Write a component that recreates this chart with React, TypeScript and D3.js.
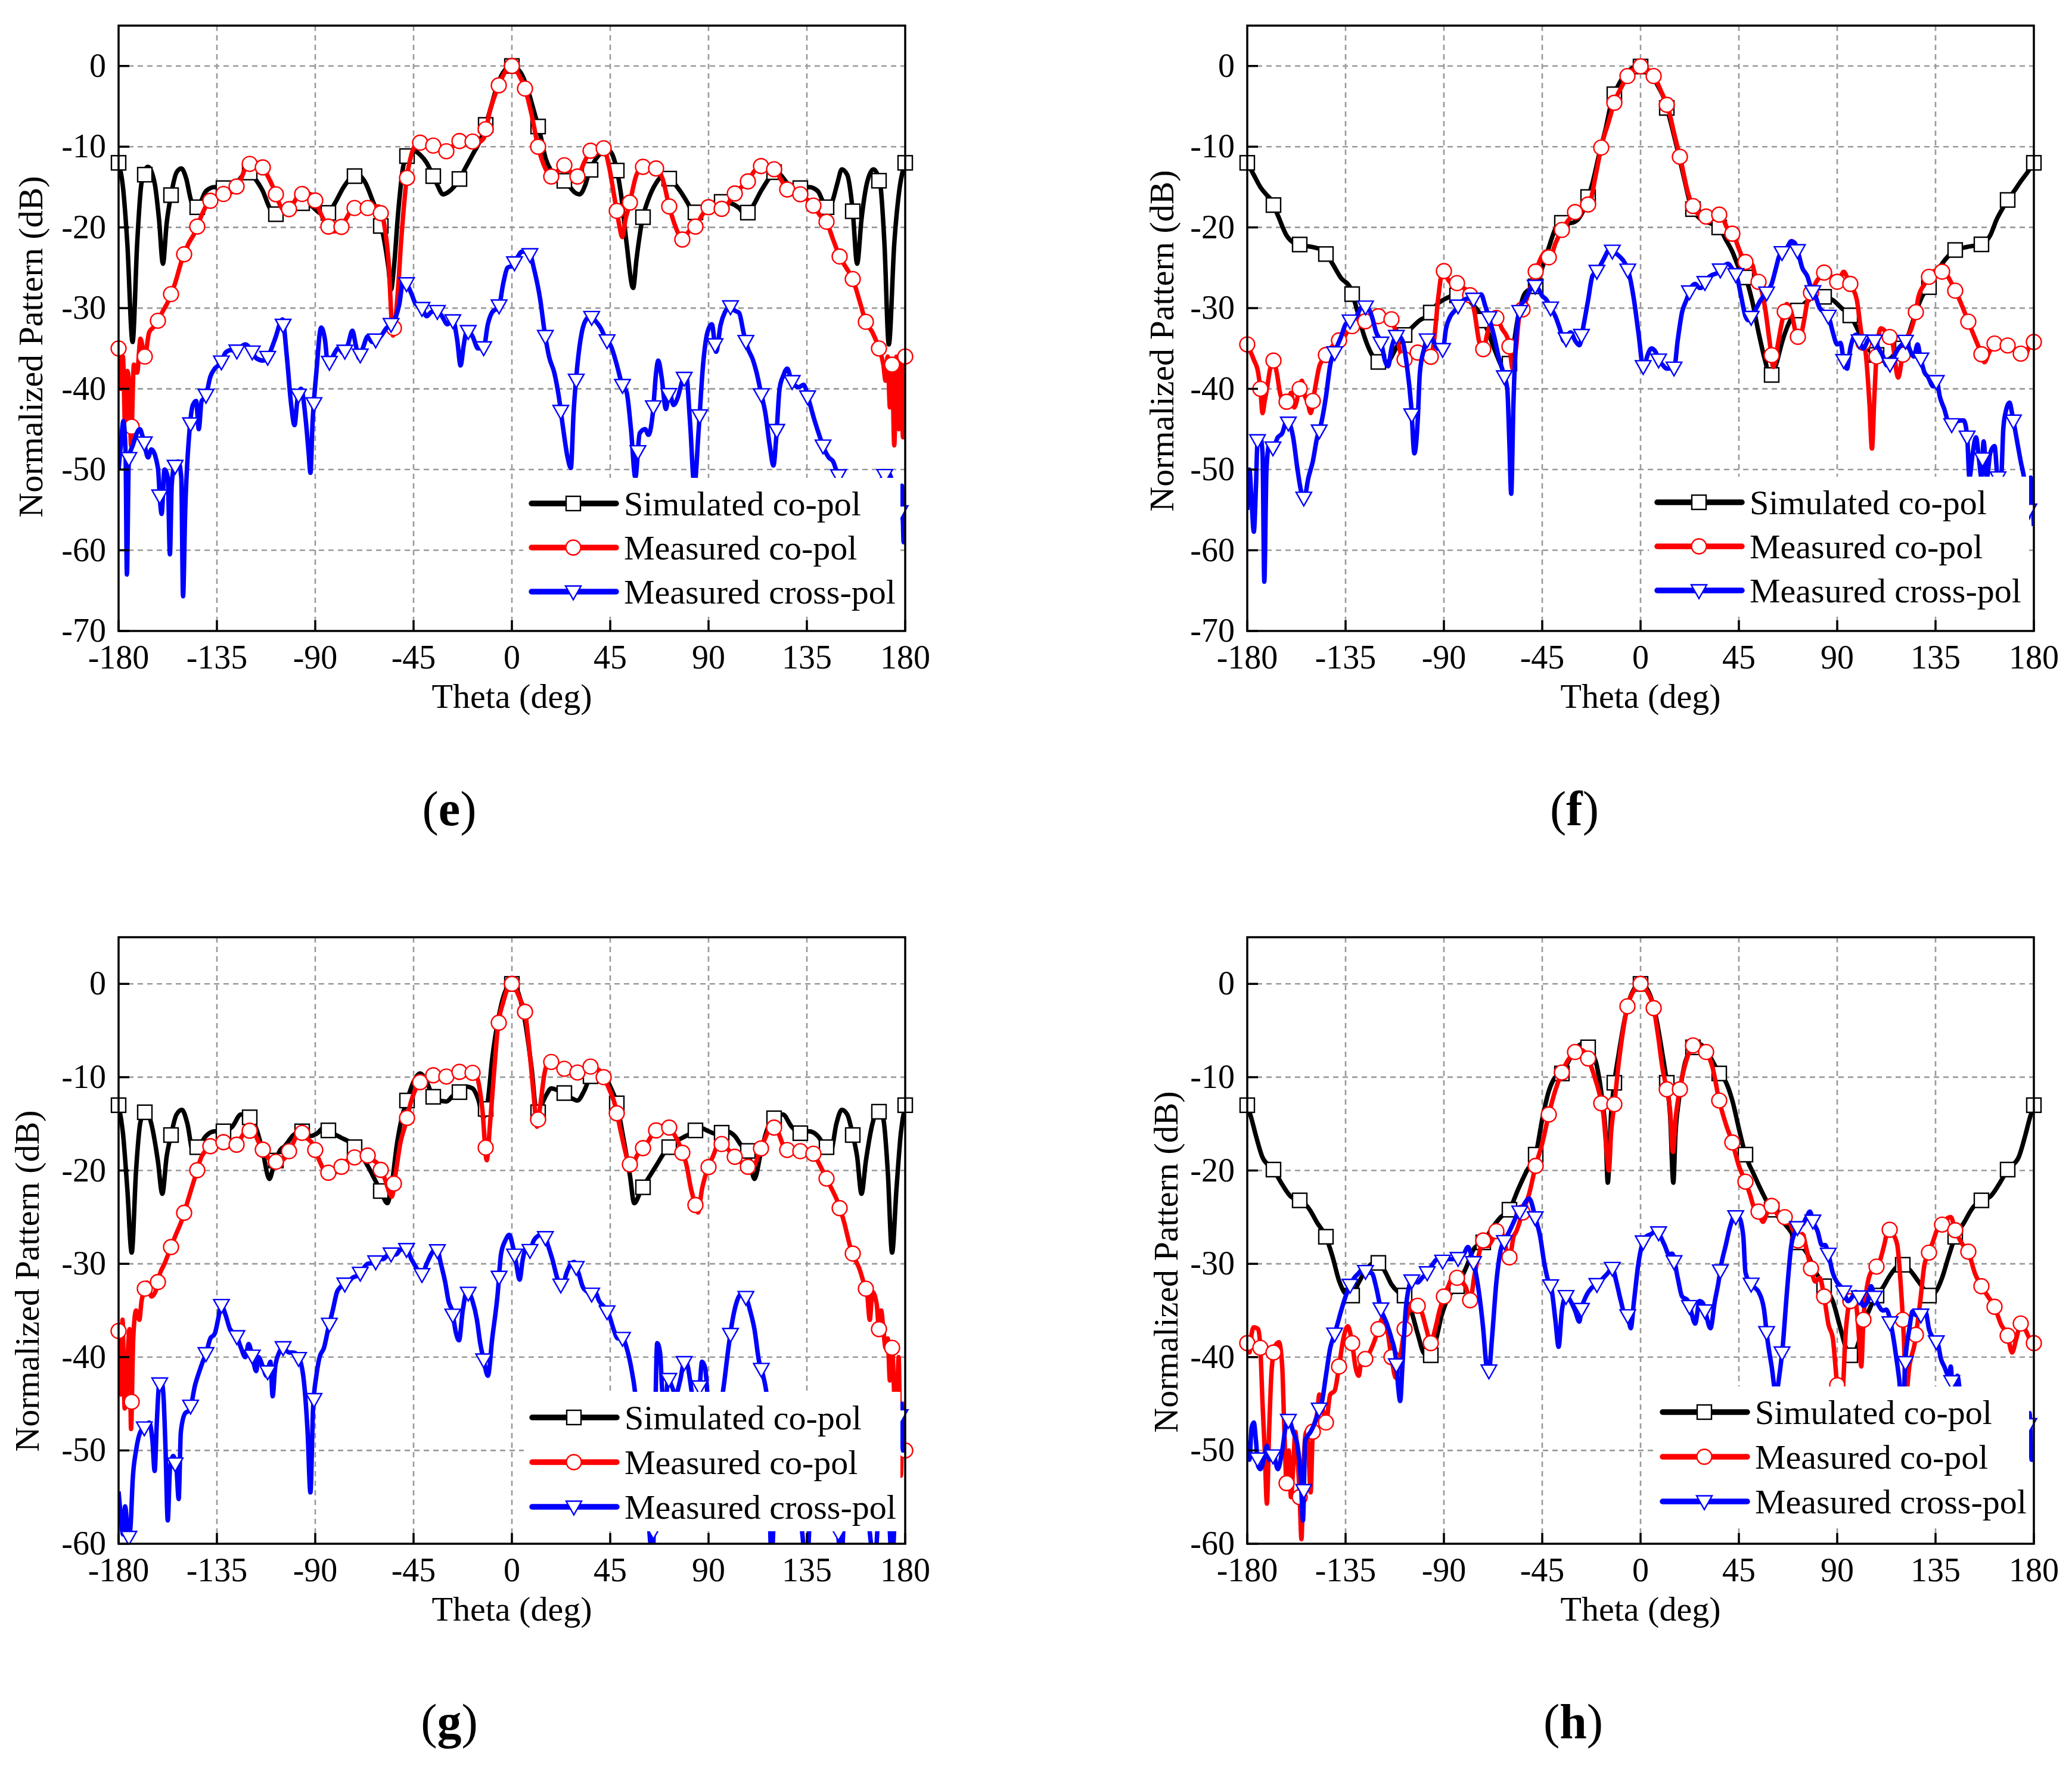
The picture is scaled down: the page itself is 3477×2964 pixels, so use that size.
import React, { useEffect } from 'react';
import * as d3 from 'd3';

type Pt = [number, number];

const THETA_TICKS = [-180, -135, -90, -45, 0, 45, 90, 135, 180];
const DB_TICKS_EF = [0, -10, -20, -30, -40, -50, -60, -70];
const DB_TICKS_GH = [0, -10, -20, -30, -40, -50, -60];
const LEGEND_LABELS = ['Simulated co-pol', 'Measured co-pol', 'Measured cross-pol'];
const X_TITLE = 'Theta (deg)';
const Y_TITLE = 'Normalized Pattern (dB)';

// marker positions (theta) for each series
const SIM_MARKS = d3.range(-180, 180.1, 12);
const MEAS_MARKS = d3.range(-180, 180.1, 6);
const CROSS_MARKS = d3.range(0, 51).map((k) => -175.3 + 7.06 * k);

// ---------- panel (e) ----------
const E_SIM: Pt[] = [[-180,-12],[-178,-15],[-176,-22],[-173.6,-34.2],[-171.5,-22],[-169.5,-14.5],[-166.6,-12.5],[-163.5,-14.5],[-161.5,-19],[-159.7,-24.5],[-158,-19.5],[-156,-16],[-153.5,-13.2],[-151.3,-12.7],[-149,-14],[-147,-16.5],[-145,-17.8],[-143,-17.2],[-140,-15.5],[-136,-15],[-130,-15.2],[-126,-14.5],[-123,-13.5],[-120.7,-13],[-118,-13.8],[-114,-15.5],[-111,-17.5],[-108.2,-18.4],[-105,-17.8],[-101,-17],[-96,-17],[-92,-17.3],[-88,-18.2],[-84.5,-18.4],[-81,-17],[-77,-15],[-73.5,-13.8],[-70.6,-13.5],[-67,-14.5],[-64,-16.5],[-61,-18.7],[-58.5,-21.5],[-56.5,-25],[-55.3,-27.7],[-54,-25],[-52,-18],[-49.7,-12.4],[-47.5,-10.8],[-45,-10.5],[-42,-11],[-39,-12],[-36.6,-13.3],[-34,-14.8],[-31.6,-15.9],[-29,-15.6],[-26,-14.8],[-24,-14],[-21,-12.5],[-18,-11],[-15,-9.5],[-13,-8.2],[-10,-5.5],[-7,-2.7],[-4,-0.8],[0,0],[4,-0.8],[7,-2.7],[10,-5.5],[13,-8.5],[15.5,-11.5],[18,-13],[21,-13.8],[23.2,-14],[26,-14.8],[28.5,-15.6],[31,-15.9],[33.5,-14.8],[35.2,-13.3],[38.5,-11.5],[41.5,-10.7],[44.4,-10.5],[47.7,-12.5],[50,-16],[52.5,-22],[55.5,-27.5],[57,-24],[59.7,-19],[62.5,-16.5],[66,-14.5],[70,-13.5],[73.5,-14.3],[77,-15.5],[80.5,-17],[83.1,-18.2],[86,-18],[90,-17.3],[95,-16.8],[100,-17],[104,-17.6],[107,-18.5],[110,-17.5],[114,-15.5],[118,-13.8],[120.5,-13],[123,-13.5],[126,-14.5],[130,-15.2],[136,-15],[140,-15.5],[143,-17.2],[145,-17.8],[147,-16.5],[149,-14.5],[151,-12.8],[153.5,-13.5],[156,-18],[158,-24.5],[160,-19],[162.5,-14.5],[165.5,-12.8],[168.5,-14.5],[170.5,-22],[172.5,-34.5],[175,-22],[177.5,-15],[180,-12]];
const E_MEAS: Pt[] = [[-180,-35],[-179,-40],[-178,-36],[-177,-45],[-176,-37.8],[-175,-40],[-174.3,-47],[-173,-37],[-171.5,-38],[-170,-33.8],[-168,-36],[-166,-33],[-163,-32.1],[-160,-30.5],[-157,-29],[-154,-26.8],[-151,-24],[-148,-22],[-145,-20.6],[-142,-18.5],[-139,-16.9],[-136,-16.3],[-133,-15.9],[-130,-15.8],[-127,-15.4],[-124,-14],[-121,-12.2],[-118,-12],[-115,-12.1],[-112,-13.5],[-109,-15.2],[-106,-17.3],[-103,-18.1],[-100,-17],[-97,-15.9],[-94,-15.8],[-91,-16],[-88,-18],[-85,-19.6],[-82,-20.5],[-79,-20.4],[-76,-19],[-73,-17.7],[-70,-17.4],[-67,-17.7],[-64,-17.4],[-61,-17.4],[-58.5,-19.5],[-56.5,-24],[-54.4,-33.4],[-52.5,-29],[-50.5,-21],[-48.3,-14.3],[-46,-11],[-43,-9.5],[-40,-9.5],[-37,-9.7],[-34,-10.2],[-31,-10.7],[-28,-10.3],[-25,-9.3],[-22,-9.3],[-19,-9.3],[-16,-9.5],[-13,-9],[-10,-5.5],[-6,-2.4],[-3,-0.7],[0,0],[3,-1],[6,-2.8],[9,-6],[12,-10],[15,-12.5],[18,-13.7],[21,-13],[24,-12.3],[27,-13.2],[30,-13.7],[33,-12],[36,-10.5],[39,-10.2],[42,-10.2],[44.5,-12.5],[47,-16.4],[49,-19.5],[50.5,-21.2],[52,-19],[53.5,-17.5],[57,-13.5],[60,-12.5],[63,-12.5],[66,-12.7],[69,-14],[72,-17.4],[75,-20],[78,-21.5],[81,-20.5],[84,-19.9],[87,-18.5],[90,-17.5],[93,-17.5],[96,-17.7],[99,-17],[102,-15.8],[105,-15],[108,-14.3],[111,-13],[114,-12.4],[117,-12.5],[120,-12.8],[123,-14],[126,-15.3],[129,-15.8],[132,-15.9],[135,-16.5],[138,-17.3],[141,-18.5],[144,-19.3],[147,-21.5],[150,-23.6],[153,-25],[156,-26.4],[159,-29],[162,-31.7],[165,-33],[168,-35],[170,-37],[171,-39],[172,-36],[173,-42.3],[174,-37],[175,-47],[176,-36],[177,-45],[178,-37],[179,-46],[180,-36]];
const E_CROSS: Pt[] = [[-180,-50],[-179,-47],[-177.8,-44],[-176.8,-48],[-176.2,-63],[-175.3,-48.6],[-173.5,-47],[-170.3,-45],[-168.6,-46.3],[-166.5,-48.5],[-165,-47.5],[-162,-49.8],[-161,-54],[-160.3,-55.5],[-159,-50],[-157.5,-51],[-156.5,-60.5],[-155.7,-52],[-154.7,-49.8],[-152.7,-49],[-151.3,-51],[-150.5,-65.7],[-149.5,-55],[-147.7,-45.7],[-146,-42],[-144.5,-41.5],[-143.3,-45],[-142,-41.5],[-140.2,-41],[-138,-38.5],[-136,-37.5],[-133.2,-36.8],[-131,-35.5],[-128.5,-35.2],[-126.3,-35.4],[-124,-34.8],[-122,-34.5],[-119.3,-35.2],[-117,-36.2],[-114,-36.5],[-112.3,-36.4],[-110,-35],[-108,-33.5],[-106,-31.8],[-105,-31.4],[-103,-36],[-101,-42],[-99.5,-44.5],[-98,-41],[-96.5,-40],[-94.3,-44],[-93,-48],[-92.2,-50.4],[-91.2,-44],[-89.5,-38],[-87.3,-32.4],[-85.5,-34],[-84.2,-37],[-82,-36],[-79.5,-35],[-77,-35.6],[-75,-34.5],[-73,-32.8],[-71.5,-34.5],[-70,-36.2],[-68,-34.8],[-66,-33.5],[-64,-34.2],[-62.8,-34],[-60,-33.5],[-57.5,-32.5],[-55.3,-32],[-53,-31],[-51.5,-29.5],[-49.7,-26.5],[-48.3,-26.9],[-46,-28.2],[-44,-29.5],[-41.4,-29.9],[-39,-31],[-37,-30.5],[-34.4,-30.3],[-32,-31],[-29.5,-32],[-27.4,-31.1],[-25,-34],[-23.5,-37.1],[-22,-34.5],[-20.5,-32.7],[-18,-33.5],[-15.5,-35],[-13,-35],[-11,-32],[-9,-30.5],[-6,-29.9],[-4,-27],[-2,-25],[0.5,-24.7],[3,-23.5],[4.5,-23],[8,-23.1],[10,-25],[13,-29],[15,-33],[17,-36],[19.5,-38.1],[21.5,-41],[23.5,-45],[25.5,-48.5],[27,-49.8],[28.2,-43.1],[30,-37],[32,-33],[34,-31.4],[36,-31],[38,-31.5],[40.5,-32.4],[43,-33.8],[45.5,-34.8],[48,-37],[50.5,-39.5],[52.5,-40.4],[54.5,-45],[56.5,-51],[58.5,-45.5],[61,-45],[62.5,-45.7],[64.5,-43],[66,-38],[67,-36.5],[68.5,-38.5],[70.5,-42.5],[72,-40.4],[74,-42],[76,-41],[78,-39],[79.8,-38.3],[81.5,-44],[83.5,-52],[85.5,-45],[87.5,-37],[89.5,-33],[91.5,-32],[93.5,-35.4],[95.5,-32.1],[97.5,-30.5],[100,-29.8],[102,-30.3],[104,-30.6],[106,-33],[108,-35],[110.3,-36.4],[112,-38],[114,-40.5],[116,-43],[118,-47],[119.7,-49.5],[121,-46],[122.5,-40],[124.3,-38.3],[126,-37.5],[128,-39],[131.3,-39.8],[133.5,-39.5],[136,-41.5],[138.5,-43.9],[141,-46],[143,-47.5],[145,-48.5],[147,-49],[149,-50.5],[151,-51.5],[153,-53],[157,-55],[161,-54],[165,-52],[169,-51.2],[172,-50.3],[174,-51.5],[175.5,-54],[176.5,-52],[177.5,-56],[178.5,-52],[179.3,-59],[180,-55]];

// ---------- panel (f) ----------
const F_SIM: Pt[] = [[-180,-12],[-177,-13.5],[-174,-15],[-171,-16],[-169,-16.6],[-166,-18.5],[-162,-21],[-158,-22],[-153,-22.3],[-149,-22.5],[-145,-22.9],[-141,-24.5],[-137,-26.3],[-133,-27.4],[-130,-30],[-127,-33],[-124,-35.2],[-121,-36.5],[-118,-37],[-115,-36.5],[-112,-35],[-109,-33.6],[-105,-32.5],[-101,-31.5],[-97,-30.9],[-93,-29.5],[-89,-28.8],[-85,-28.4],[-81,-28.5],[-77,-29.5],[-73,-30.9],[-70,-32.8],[-67,-35],[-64,-37],[-61.5,-38.2],[-59,-36],[-56,-31],[-53,-28.2],[-50,-27.6],[-48,-27.3],[-45,-25],[-42,-22.5],[-39.5,-20.5],[-37,-19.4],[-34,-19.5],[-31,-19.4],[-28,-18.8],[-25,-17.1],[-22,-14.5],[-19,-11],[-16,-7.8],[-13,-4.1],[-10,-2.3],[-7,-1],[-4,-0.3],[-1,0],[2,-0.2],[5,-1],[8,-2.5],[11,-4.2],[14,-7.2],[17,-10.5],[20,-14],[23,-17.3],[26,-18.6],[29,-19.2],[32,-19.5],[36,-20],[39,-21.5],[42,-23],[45,-25],[48,-26.2],[51,-29],[54,-33],[57,-36.5],[59.5,-38.6],[62,-37],[65,-34],[68,-31.8],[72,-30.3],[76,-29.2],[80,-28.6],[84,-28.6],[88,-29],[92,-30],[96,-30.9],[100,-33],[104,-35],[108,-35.8],[111,-36.5],[114,-36.3],[117,-35.5],[120,-35],[123,-33],[126,-30.5],[129,-28.5],[132,-27.4],[135,-26],[138,-24.5],[141,-23.5],[144,-22.8],[148,-22.5],[152,-22.3],[156,-22.1],[160,-21],[163,-19],[166,-17.5],[168,-16.6],[171,-15.5],[174,-14.3],[177,-13.2],[180,-12]];
const F_MEAS: Pt[] = [[-180,-34.5],[-177,-36.4],[-175,-38],[-174,-40],[-173,-43],[-172,-41.5],[-171,-40],[-169.5,-37.5],[-168,-36.5],[-166.5,-38],[-165,-40.5],[-163,-41.7],[-161,-41.5],[-160,-40.5],[-158.5,-42.3],[-156.5,-40.5],[-155,-39],[-153.5,-41],[-152.5,-41.5],[-151,-43],[-149,-40],[-147,-37.2],[-145.5,-36.4],[-142,-35],[-139,-34.2],[-135.5,-33.5],[-132.7,-32.3],[-129.5,-32],[-126.5,-31.7],[-123.5,-31.3],[-120.7,-31],[-117.5,-31],[-114.6,-30.9],[-112,-33],[-109,-36.2],[-107,-36.5],[-105,-35.8],[-102.9,-35.4],[-100.5,-35.7],[-98.5,-36.2],[-96.5,-36.7],[-94.5,-34],[-92.5,-28.5],[-90.4,-25.2],[-88,-26.5],[-86,-27],[-84,-26.9],[-81,-27.5],[-78.1,-28.3],[-76,-30.5],[-74,-34],[-72.3,-35.4],[-70,-33],[-68,-31.5],[-65.9,-31.2],[-63.5,-32.5],[-60.3,-34.2],[-58.5,-37.5],[-57,-35],[-55.5,-31],[-54.2,-30.3],[-51,-28],[-47.8,-25.3],[-45,-23.5],[-43.5,-23],[-41.6,-23.9],[-39,-22],[-35.8,-20.2],[-32.7,-19],[-29.7,-18],[-26.6,-17.5],[-23.5,-17.1],[-20.5,-13.5],[-17.7,-9.7],[-14.7,-7],[-11.6,-4.2],[-8.5,-2.5],[-5.5,-1],[-2.5,-0.3],[0.5,0],[3.5,-0.5],[6.5,-1.4],[9.5,-3.2],[12.6,-5.2],[15.5,-8.5],[18.5,-11.8],[21.5,-15.5],[24.6,-17.8],[27.5,-18.5],[30.7,-18.7],[33.5,-18.5],[36.6,-18.4],[39.5,-20],[42.7,-21],[45.5,-23],[48.8,-24.7],[51,-24.6],[52.5,-26],[54.7,-27.1],[57,-30],[59,-34],[60.8,-37.3],[62.5,-35],[64.5,-32],[66.9,-29.5],[69,-30.5],[71,-33],[72.8,-34],[74.5,-32],[76.5,-29],[79,-27.5],[81,-26.5],[83,-26],[85,-25.2],[87,-26],[89,-27],[90.9,-26.5],[93,-25.5],[95,-26.5],[97,-27.5],[99,-29],[101,-33],[103.1,-35.7],[104.8,-42],[105.9,-47.4],[107,-41],[108.2,-35],[110,-32.5],[112.5,-33],[115.1,-34],[117.9,-38.6],[119.8,-36],[121.5,-34],[124,-32.5],[126,-30.5],[127.1,-28.7],[130,-27],[133.2,-25.6],[136,-25.3],[139.3,-25.6],[142.5,-27],[145.7,-28.8],[149,-31],[151.8,-32.9],[155,-35],[157.4,-36.7],[159.5,-35.5],[161.5,-34.5],[163.8,-34],[166.5,-34.5],[170,-34.8],[173,-35.5],[175.8,-35.9],[177.5,-35],[178.5,-34],[180,-34.2]];
const F_CROSS: Pt[] = [[-180,-55],[-179,-50],[-178,-54],[-177,-57.7],[-176,-52],[-175.3,-46.4],[-174,-46],[-173,-48],[-172.2,-63.9],[-171.2,-50],[-170,-47],[-168.2,-47.3],[-166,-46],[-164,-45.5],[-162,-44],[-160.5,-44.4],[-159,-46],[-157,-50],[-155.5,-52.5],[-154,-53.6],[-152,-51],[-150,-49],[-148,-46],[-146.6,-44.8],[-144,-41],[-142,-37],[-139.6,-35.2],[-137,-33.5],[-135,-32],[-132.6,-31.5],[-130,-31],[-128,-30],[-125.4,-29.8],[-123,-31],[-121,-33],[-118.5,-34.5],[-117,-36.5],[-115.5,-37.2],[-114,-35],[-112,-33.5],[-111,-33.4],[-109,-34],[-107,-37],[-105,-42],[-103.5,-48],[-102,-44],[-101,-38],[-99,-35],[-97,-33.4],[-95,-34],[-93,-35],[-90.5,-35.1],[-89,-32.5],[-87,-31],[-85,-30.3],[-83,-29.5],[-81,-29],[-79,-28.8],[-77,-29],[-75,-28.5],[-73,-28.3],[-71,-29.8],[-69,-31.5],[-67,-33.5],[-65,-36],[-62.5,-38.3],[-61,-40],[-60,-47],[-59.2,-53],[-58.2,-42],[-57,-34],[-55,-29.8],[-53,-29],[-51,-28],[-49,-27.1],[-47,-27.5],[-45,-28.5],[-43,-29],[-41.5,-29.8],[-39,-31],[-37,-32.5],[-35,-34.1],[-32,-33],[-30,-34],[-28,-34.6],[-26,-32],[-24,-29],[-22,-26],[-19.6,-25.3],[-17,-24],[-14,-22.7],[-12.5,-23],[-10,-23.5],[-7,-24.5],[-5.5,-25.5],[-3,-29],[-1,-33],[1.4,-37.6],[3,-36],[5,-35],[7,-35.5],[8.4,-36.5],[10,-37],[12,-37.5],[15.4,-37.4],[17,-34],[19,-30.5],[21,-29],[23,-27.5],[25,-27],[27,-27.5],[28.3,-27.4],[30,-26.5],[32,-26],[35.3,-25.6],[38,-24.8],[40,-24.5],[42.3,-25.3],[44,-26],[46,-28.5],[48,-31],[49.3,-31.5],[51,-31],[53,-30],[55,-29],[56.4,-28.5],[58,-28],[60,-27],[62,-25],[63.4,-23.6],[65,-23],[67,-22.5],[69,-21.7],[70.5,-21.9],[72,-23],[74,-25],[76.4,-26.1],[78,-27.5],[80,-28.5],[82,-30],[84.5,-30.6],[86,-31],[88,-33],[90,-34.5],[91.5,-34.3],[93,-36.5],[94.5,-37.5],[96,-35],[98.6,-33.3],[100,-34],[102,-35],[104,-34],[105.6,-33.6],[107,-34],[109,-35],[111,-36],[112.7,-37.1],[114,-37],[116,-36],[118,-35],[119.7,-34.5],[121.5,-34],[123,-35],[125,-36],[126.8,-34.5],[128,-36],[130,-38],[131.5,-38.5],[133.9,-39.7],[135.5,-39],[137,-41],[139,-42.5],[141,-44.2],[143,-44.5],[145,-44],[147.9,-43.9],[149.5,-46],[150.5,-51],[152,-48],[153.5,-46],[155,-49],[156,-51],[157,-46.5],[158.5,-51],[160,-48],[162,-47.1],[163.5,-51],[165,-51],[166,-45],[167,-43],[168.9,-41.7],[170,-43],[172,-46],[174,-49],[175.5,-51],[176.5,-53],[177.5,-56],[178.5,-51],[179.3,-53],[180,-57]];

// ---------- panel (g) ----------
const G_SIM: Pt[] = [[-180,-13],[-178,-16],[-176,-22],[-174,-28.8],[-172,-20],[-170,-14.8],[-167.5,-13.5],[-165,-15],[-162,-19],[-160,-22.5],[-158,-18.5],[-156,-16.2],[-153.5,-14],[-151,-13.5],[-148.5,-15],[-146,-17.9],[-143,-17.3],[-140,-16.3],[-136,-15.8],[-132,-15.8],[-128,-15.3],[-124,-14],[-120,-14.3],[-117,-15.5],[-114,-18],[-111,-20.9],[-109,-19.5],[-106,-17.8],[-104,-17.4],[-100,-16.2],[-96,-15.8],[-92,-16.3],[-89,-16],[-86,-15.4],[-82,-16],[-78,-16.5],[-74,-17],[-70,-18],[-66,-19.5],[-62,-21.3],[-60,-22.2],[-57,-23.5],[-55,-21.5],[-52.5,-17],[-50,-14],[-48,-12.5],[-45,-10.5],[-42,-9.6],[-39,-10.5],[-36,-12.1],[-33,-12.5],[-30,-12.6],[-27,-12],[-24,-11.6],[-21,-11],[-18,-11.2],[-15.5,-12.3],[-13,-14.3],[-11,-12.5],[-9,-8],[-6,-3.5],[-3,-0.8],[0,0],[3,-1],[6,-4],[9,-9],[11.5,-14],[13.5,-13],[16,-11.8],[18,-11.2],[21,-11.4],[24,-11.7],[27,-12.2],[30,-12.5],[33,-11.5],[36,-9.9],[39,-9.4],[42,-9.7],[45,-11],[48,-12.8],[51,-16.5],[54,-20.5],[56,-23.5],[59,-22.2],[62,-21],[66,-19.5],[70,-18],[74,-17],[78,-16.5],[82,-16],[86,-15.4],[90,-15.8],[94,-16.1],[98,-15.8],[102,-16.3],[105,-17.3],[108,-17.9],[111,-20.9],[114,-18],[117,-15.5],[120,-14.4],[124,-14],[128,-15.3],[132,-16],[136,-15.8],[140,-16.3],[143,-17.3],[146,-17.9],[148.5,-15],[151,-13.5],[153.5,-14],[156,-16.2],[158,-18.5],[160,-22.5],[162,-19],[165,-15],[167.5,-13.5],[170,-14.5],[172,-20],[174,-28.8],[176,-22],[178,-16],[180,-13]];
const G_MEAS: Pt[] = [[-180,-37.2],[-179,-44],[-178.2,-36],[-177.2,-45.5],[-176,-40.5],[-175,-37],[-174.3,-47.7],[-173.3,-38],[-172,-35],[-170.5,-36],[-169.5,-34],[-168.5,-33],[-167,-32],[-165,-33.5],[-163,-32.9],[-161,-31],[-159,-30],[-157,-28.8],[-154,-27],[-151,-25.3],[-148,-23],[-145,-20.7],[-142,-18.5],[-139,-17.6],[-136,-17],[-133,-16.8],[-130,-17.3],[-127,-17.6],[-124,-16.5],[-121,-15.6],[-118,-16],[-115,-17.4],[-112,-18.5],[-109,-19.1],[-106,-19],[-103,-18.4],[-100,-17],[-97,-15.7],[-94,-16.5],[-91,-17.2],[-88,-19],[-85,-20.2],[-82,-20.3],[-79,-19.9],[-76,-19],[-73,-18.8],[-70,-18.2],[-67,-18.2],[-64,-18.8],[-61,-19.4],[-58,-21],[-56,-22.4],[-55,-22.8],[-53,-20],[-51,-17],[-49,-15.3],[-46,-12.5],[-43,-10.8],[-40,-10],[-37,-9.8],[-34,-9.8],[-31,-10],[-28,-9.8],[-25,-9.5],[-22,-9.3],[-19,-9.3],[-16,-10],[-13.5,-13.5],[-11.5,-18.9],[-10,-15],[-8,-9],[-6.4,-4.6],[-4,-2],[-2,-0.5],[0,0],[2,-0.7],[4,-1.8],[6,-3],[8,-7],[10,-12],[11.5,-15.3],[13,-13],[15,-9.5],[17,-8.3],[20,-8.5],[23,-9],[26,-9.3],[29,-9.6],[32,-9.3],[35,-8.8],[38,-9],[41,-9.5],[44,-11],[47,-12.8],[50,-16],[53,-18.9],[55,-19.8],[57,-18.5],[59,-17.9],[62,-17],[65,-15.9],[68,-15.3],[71,-15.1],[74,-16],[77,-17.4],[80,-19.5],[82,-22],[84,-23.7],[85.2,-24.5],[87,-22],[89,-20.2],[92,-18.5],[95,-17],[98,-17.5],[101,-18.3],[104,-19],[107,-19.4],[109,-19.8],[111,-19.5],[113,-18.2],[116,-16.5],[119,-15.1],[122,-16],[125,-17.7],[128,-18],[131,-18],[134,-17.8],[137,-17.8],[140,-19],[143,-20.4],[146,-21.8],[149,-23.3],[152,-25.5],[155,-28.3],[157,-29.5],[159,-30.5],[161,-32],[162.5,-33],[163.8,-36],[165,-33],[167,-34.4],[168,-37],[169,-35],[170,-37],[171,-39],[172,-38],[173,-42.5],[174,-39],[175,-44],[176,-46],[177,-40],[178,-52.7],[179,-45],[180,-50]];
const G_CROSS: Pt[] = [[-180,-54.4],[-179,-57],[-178,-59],[-177,-56],[-175.5,-59.6],[-174.5,-58],[-173.5,-53],[-172,-50],[-170,-48],[-168,-47.5],[-166,-47],[-164.5,-49],[-163.5,-52.2],[-162.5,-47],[-161.5,-43],[-160.5,-42.5],[-159.5,-44],[-158.5,-50],[-157.5,-57.5],[-156.5,-52],[-155,-50.6],[-153.5,-52],[-152.5,-55.2],[-151.5,-48],[-149.5,-46],[-147.5,-45.7],[-145,-43],[-143,-41.5],[-141.5,-40.5],[-140,-39.6],[-138,-38],[-136,-37.5],[-134.5,-36],[-133,-34.4],[-131,-35.5],[-129,-37],[-126,-37.7],[-124,-39],[-122,-40],[-120.5,-38.6],[-119,-39.7],[-117,-41.5],[-116,-40],[-114,-41],[-112.3,-42],[-110.5,-40.5],[-109.5,-44.2],[-108.3,-41],[-106.5,-39.5],[-105,-38.9],[-102,-39.5],[-100,-39.5],[-98,-39.8],[-95.5,-42],[-93.5,-48],[-92.2,-54.5],[-91,-45.5],[-89.5,-42],[-88,-40],[-86,-39],[-84,-36.9],[-82,-35],[-80,-33],[-78.5,-32.5],[-77,-32.2],[-75,-32],[-73,-31.5],[-70,-31.2],[-68,-30.5],[-66,-30],[-63,-29.9],[-61,-29.5],[-59,-29.5],[-56,-28.9],[-53,-29],[-51,-28.5],[-48.3,-28.4],[-46,-29.5],[-43.5,-30.5],[-41.3,-31.2],[-39,-30],[-37,-29],[-34.4,-28.3],[-32.5,-30],[-30.5,-32],[-29,-34],[-27.4,-35],[-25.5,-37.5],[-24.2,-38.2],[-22.5,-35],[-20.5,-32.9],[-18,-34],[-16,-36],[-14.5,-38.5],[-13,-40.2],[-11,-42],[-9,-38],[-6.5,-33.2],[-5,-29],[-3,-27.5],[-1.2,-26.9],[0.5,-28.2],[2,-30],[3.5,-31.7],[5,-29.5],[6.5,-28.3],[8,-28.7],[10,-27.5],[12,-27],[14.8,-26.8],[16.5,-28],[18.5,-29.5],[21,-31.7],[23,-32.5],[25,-31],[26.5,-30.2],[28.5,-29.8],[30.5,-31],[32.5,-32.5],[34.5,-33],[36,-33.3],[38,-33],[40,-34],[42.5,-34.7],[44.5,-35.5],[46.5,-37],[48.5,-38],[50.5,-37.9],[52.5,-39],[54.5,-41],[56.5,-44],[58,-48],[60,-52],[62,-56],[64.5,-62],[65.5,-48],[66.5,-38.5],[67.8,-39.5],[69,-44],[70.5,-44.5],[71.5,-42.2],[73,-43],[75,-44],[77,-42.5],[79.2,-40.2],[80.5,-41],[82.5,-44],[84.5,-46],[86,-43],[87,-40.5],[88.5,-41.2],[89.5,-44],[91,-47],[93,-48],[95,-46],[97,-43],[99,-39.2],[101,-36],[103,-34],[105,-33.2],[107,-33.5],[109,-35],[111,-37],[113,-40.3],[115,-42],[117,-45],[118.8,-62],[121,-50],[125,-48],[130,-52],[135,-62],[138,-50],[143,-52],[148,-55],[150.7,-62],[153,-52],[158,-50],[162,-55],[166,-62],[169,-53],[172,-55],[174,-62],[176,-52],[177,-48],[178.2,-45],[179,-50],[180,-46]];

// ---------- panel (h) ----------
const H_SIM: Pt[] = [[-180,-13],[-178,-14.5],[-176,-16.3],[-173,-18.6],[-168,-19.9],[-164,-21.5],[-160,-22.8],[-156,-23.2],[-152,-24],[-148,-25.6],[-144,-27.1],[-141,-29.2],[-138,-31.8],[-135,-33.2],[-132,-33.4],[-129,-32],[-126,-30.8],[-123,-30],[-120,-29.9],[-117,-30.8],[-114,-32.2],[-111,-33],[-108,-33.4],[-105,-35],[-102,-37.5],[-99,-39.6],[-96,-39.8],[-94,-38.5],[-91,-35.5],[-88,-33.6],[-84,-32.4],[-80,-30.5],[-76,-28.3],[-72,-27.7],[-68,-26.2],[-64,-25],[-60,-24.2],[-56,-22],[-52,-20],[-48,-18.3],[-45,-14.5],[-42,-11.5],[-39,-10],[-36,-9.6],[-33,-8.3],[-30,-7],[-26,-6.4],[-23,-7],[-20,-8.8],[-17.5,-12.5],[-16,-16],[-15,-21.3],[-13.5,-14],[-12,-10.6],[-10,-7.5],[-7,-3.5],[-4,-1],[0,0],[4,-1],[7,-3.5],[10,-7.5],[12,-10.6],[13.5,-14],[15,-21.3],[16,-16],[17.5,-12.5],[20,-8.8],[23,-7],[26,-6.4],[30,-7],[33,-8.3],[36,-9.6],[39,-10.5],[42,-12.5],[45,-15.5],[48,-18.3],[52,-20.5],[56,-22.5],[60,-24.2],[64,-25.2],[68,-26.3],[72,-27.7],[76,-28.8],[80,-30.8],[84,-32.4],[88,-34],[91,-36.5],[94,-39],[96,-39.8],[98,-39.5],[101,-37.5],[104,-35.3],[108,-33.4],[111,-32.5],[114,-31.3],[117,-30.4],[120,-30.1],[123,-30.6],[126,-31.5],[129,-32.5],[132,-33.4],[135,-33],[138,-31.5],[141,-29.2],[144,-27.1],[148,-25.6],[152,-24],[156,-23.2],[160,-22.8],[164,-21.5],[168,-19.9],[173,-18.6],[176,-16.3],[178,-14.5],[180,-13]];
const H_MEAS: Pt[] = [[-180,-38.5],[-179,-39.5],[-178,-37.5],[-177,-36.8],[-175,-37],[-174,-39],[-173,-45],[-172,-50],[-171,-55.7],[-170,-48],[-169,-42],[-168,-39.5],[-167,-38.7],[-165.5,-38.4],[-164,-41],[-163,-48],[-162,-53.5],[-161,-50],[-160,-55],[-159,-52],[-158,-48],[-157,-50.7],[-156,-55],[-155.2,-59.5],[-154.3,-52],[-153,-48],[-152,-50],[-151,-54.5],[-150,-48],[-148,-46],[-147,-44],[-145.5,-45.5],[-144,-47],[-142,-44],[-140,-43.6],[-138,-41],[-136,-38],[-134,-36.7],[-132,-38.5],[-130.5,-41],[-129,-42],[-127.5,-40],[-126,-40.2],[-124,-39.5],[-122,-38.4],[-120,-37],[-118,-35.8],[-116,-37],[-114,-40],[-112,-42.2],[-110,-40],[-108,-37],[-106,-35],[-104,-34],[-102,-34.5],[-100,-35.3],[-98,-37],[-96,-38.5],[-94,-37],[-92,-35],[-90,-33.5],[-88,-32.4],[-86,-31.5],[-84,-31.5],[-82,-31.9],[-80,-32.5],[-78,-33.9],[-76,-31.2],[-74,-29],[-72,-27.5],[-70,-28.1],[-68,-27.5],[-66,-26.5],[-64,-26.4],[-62,-28],[-60,-29.3],[-58,-27],[-57,-26.6],[-54,-24.5],[-51,-22.5],[-48,-19.5],[-45,-17.1],[-42,-14],[-39,-11.4],[-36,-9.5],[-33,-8.1],[-30,-7.3],[-27,-7.1],[-24,-8],[-21,-10],[-19,-11.6],[-17,-14],[-15.5,-18],[-14.5,-20],[-13.5,-16],[-12,-12.9],[-10,-8.5],[-8,-5],[-6,-2.4],[-3,-0.7],[0,0],[3,-0.8],[6,-2.6],[8,-5.5],[10,-9],[12,-11.3],[13.5,-13.5],[14.8,-18],[16,-14.5],[17.5,-11.9],[19.5,-9.5],[22,-7.5],[24,-6.6],[27,-6.8],[30,-7.3],[33,-9],[36,-12.5],[39,-15],[42,-17],[45,-19.5],[48,-21.2],[50,-22.5],[52,-24],[54,-24.4],[56,-25.5],[58,-24.5],[60,-23.8],[62,-24.5],[64,-25],[66,-25],[68,-25.5],[70,-26.5],[72,-27.5],[74,-26.8],[76,-28.5],[78,-30.5],[80,-31.9],[82,-31.5],[84,-33.5],[86,-36.5],[88,-38],[90,-43],[92,-45],[94,-37],[96,-34],[98,-33.9],[99,-35],[100,-38],[101,-41],[102,-36],[104,-32],[105.5,-30.9],[107.5,-30.5],[109.5,-29.7],[111.5,-28],[113.5,-26.2],[115.5,-26.8],[117.5,-28],[119,-32],[120.5,-38],[121.5,-44],[123,-41],[125.5,-38.5],[128,-34],[130,-30],[132,-28.8],[134,-27.5],[136,-26.2],[138,-25.8],[140,-25.2],[142,-25],[144,-26.4],[147,-27.8],[150,-28.7],[153,-31],[156,-32.4],[159,-33.5],[162,-34.6],[165,-36.5],[168,-37.7],[170,-39.5],[172,-38],[174,-36.4],[176,-37],[178,-38],[180,-38.5]];
const H_CROSS: Pt[] = [[-180,-49],[-179,-51],[-178,-47.5],[-177,-47],[-176,-49],[-175,-51.7],[-174,-52],[-172,-50.5],[-171,-49.5],[-170,-51],[-168,-50.5],[-166,-52],[-164,-50],[-162,-47],[-161,-46.7],[-159,-48],[-157,-49.5],[-155.5,-53],[-154.5,-57.5],[-153.5,-49],[-152.5,-48.5],[-151,-48],[-149,-47],[-147,-45.5],[-146,-45],[-144,-42],[-142,-39],[-140,-37.5],[-139,-36.7],[-137,-35],[-135,-33.5],[-133,-32.3],[-131,-31.5],[-129,-31],[-127,-30.5],[-125.5,-30.9],[-123,-31],[-121,-32.5],[-119,-34.7],[-116,-36.5],[-114,-38],[-112,-40.1],[-111,-43],[-110,-44.7],[-109,-41],[-107.5,-35],[-106,-32.5],[-104.5,-31.7],[-102,-32],[-100,-31.5],[-97.5,-30.9],[-95,-30],[-93,-29.5],[-90.5,-29.7],[-88,-29.5],[-86,-29.5],[-83.5,-29.4],[-81,-29],[-79,-28.2],[-77.5,-29],[-76.5,-29.8],[-74,-33],[-72,-37],[-70.5,-41],[-69.5,-41.7],[-68,-38],[-66,-32],[-64,-28.5],[-62,-27.4],[-60,-26.5],[-58,-25.5],[-56,-24.5],[-55,-24.4],[-53,-23.5],[-51,-23],[-48,-25.2],[-46,-27],[-44,-30],[-42,-32],[-41,-32.4],[-39,-36],[-37.5,-38.9],[-36,-35],[-34,-33.4],[-32,-34],[-30,-35],[-28,-36.2],[-27,-34.8],[-25,-33.5],[-22,-32.5],[-20,-32.2],[-17,-31.5],[-15,-31],[-13,-30.4],[-11,-32],[-9,-34],[-7,-35.5],[-6,-35.4],[-4.5,-36.9],[-3,-34],[-1,-30],[1,-27.7],[3,-27],[5,-26.8],[7.5,-26.3],[9,-27],[11,-28],[13,-29],[14.5,-28.9],[17,-31.5],[19,-33.5],[21.5,-33.9],[23,-35],[25,-36.4],[27,-34],[28.5,-34.2],[30,-35.5],[32,-36.9],[34,-34],[35.5,-32.2],[37,-30],[39,-28],[41,-26],[43,-24.9],[45,-25],[47,-27],[48,-30.9],[50,-32],[52,-32.5],[54,-33],[56.5,-34.9],[58,-38],[60,-41],[62,-44],[63.5,-42],[65,-39],[67,-33],[69,-28],[70.5,-26.7],[72,-26],[74,-25.8],[76,-25],[77.5,-24.4],[79,-25.5],[81,-26.5],[83,-28],[84.5,-28],[86,-29],[88,-31],[90,-32],[91.5,-32.4],[93,-33],[95,-34],[97,-33.5],[98.5,-33],[100,-33.5],[102,-34.5],[104,-34],[105.5,-32.4],[107,-33.5],[109,-34.5],[111,-35],[112.5,-34.9],[115,-37],[117,-40],[119,-44],[120,-48],[121,-41],[123,-37],[124.5,-35.1],[126,-35.5],[128,-35.5],[130.5,-35.2],[132,-37],[134,-38],[136,-38.5],[137.5,-40.2],[139,-41],[141,-42],[142,-41],[143,-45],[145,-42],[147,-45],[149,-43.5],[151,-45],[153,-43.5],[155,-46],[160,-45],[165,-44.5],[167,-43.5],[170,-46],[175,-48],[177,-50],[178,-46],[179,-51],[180,-51]];

// ---------- layout ----------
const W = 3477;
const H = 2964;
const FONT = "'Liberation Serif', 'Times New Roman', Times, serif";

interface PanelCfg {
  key: string; letter: string;
  left: number; right: number; top: number; bottom: number;
  yMin: number; yTicks: number[];
  sim: Pt[]; meas: Pt[]; cross: Pt[];
  yTitleX: number; yTitleY: number;
  legendX: number; legendY: number; legendGap: number;
  labelX: number; labelY: number;
}

const PANELS: PanelCfg[] = [
  { key: 'e', letter: 'e', left: 199, right: 1519, top: 43, bottom: 1059, yMin: -70, yTicks: DB_TICKS_EF,
    sim: E_SIM, meas: E_MEAS, cross: E_CROSS, yTitleX: 52, yTitleY: 582,
    legendX: 892, legendY: 845, legendGap: 74, labelX: 754, labelY: 1385 },
  { key: 'f', letter: 'f', left: 2093, right: 3413, top: 43, bottom: 1059, yMin: -70, yTicks: DB_TICKS_EF,
    sim: F_SIM, meas: F_MEAS, cross: F_CROSS, yTitleX: 1950, yTitleY: 572,
    legendX: 2781, legendY: 843, legendGap: 74, labelX: 2642, labelY: 1385 },
  { key: 'g', letter: 'g', left: 199, right: 1519, top: 1573, bottom: 2591, yMin: -60, yTicks: DB_TICKS_GH,
    sim: G_SIM, meas: G_MEAS, cross: G_CROSS, yTitleX: 46, yTitleY: 2150,
    legendX: 893, legendY: 2379, legendGap: 75, labelX: 754, labelY: 2917 },
  { key: 'h', letter: 'h', left: 2093, right: 3413, top: 1573, bottom: 2591, yMin: -60, yTicks: DB_TICKS_GH,
    sim: H_SIM, meas: H_MEAS, cross: H_CROSS, yTitleX: 1957, yTitleY: 2118,
    legendX: 2790, legendY: 2370, legendGap: 75, labelX: 2640, labelY: 2917 },
];

function clean(d: Pt[]): Pt[] {
  const s = d.slice().sort((a, b) => a[0] - b[0]);
  return s.filter((p, i) => i === 0 || p[0] > s[i - 1][0]);
}

function interp(data: Pt[], t: number): number {
  if (t <= data[0][0]) return data[0][1];
  for (let i = 1; i < data.length; i++) {
    if (t <= data[i][0]) {
      const [x0, y0] = data[i - 1];
      const [x1, y1] = data[i];
      return y0 + ((y1 - y0) * (t - x0)) / (x1 - x0);
    }
  }
  return data[data.length - 1][1];
}

type Shape = 'square' | 'circle' | 'tri';

function Marker({ shape, cx, cy, color }: { shape: Shape; cx: number; cy: number; color: string }) {
  const sw = 2.4;
  if (shape === 'square') {
    return <rect x={cx - 12} y={cy - 12} width={24} height={24} fill="#fff" stroke={color} strokeWidth={sw} />;
  }
  if (shape === 'circle') {
    return <circle cx={cx} cy={cy} r={12.5} fill="#fff" stroke={color} strokeWidth={sw} />;
  }
  const pts = `${cx - 13},${cy - 9.5} ${cx + 13},${cy - 9.5} ${cx},${cy + 13.5}`;
  return <polygon points={pts} fill="#fff" stroke={color} strokeWidth={sw} strokeLinejoin="miter" />;
}

function Panel({ c }: { c: PanelCfg }) {
  const x = d3.scaleLinear().domain([-180, 180]).range([c.left, c.right]);
  const y = d3.scaleLinear().domain([c.yMin, 5]).range([c.bottom, c.top]);
  const line = d3.line<Pt>().x((d) => x(d[0])).y((d) => y(d[1])).curve(d3.curveMonotoneX);
  const clipId = `clip-${c.key}`;
  const mclipId = `mclip-${c.key}`;
  const series: { data: Pt[]; color: string; marks: number[]; shape: Shape }[] = [
    { data: clean(c.sim), color: '#000000', marks: SIM_MARKS, shape: 'square' },
    { data: clean(c.meas), color: '#ff0000', marks: MEAS_MARKS, shape: 'circle' },
    { data: clean(c.cross), color: '#0000ff', marks: CROSS_MARKS, shape: 'tri' },
  ];
  const boxX = c.legendX - 14;
  const boxY = c.legendY - 43;
  const boxW = c.right - 8 - boxX;
  const boxH = 2 * c.legendGap + 84;
  const cx = (c.left + c.right) / 2;
  const gridColor = '#9a9a9a';
  return (
    <g>
      <defs>
        <clipPath id={clipId}>
          <rect x={c.left} y={c.top} width={c.right - c.left} height={c.bottom - c.top} />
        </clipPath>
        <clipPath id={mclipId}>
          <rect x={c.left - 20} y={c.top - 20} width={c.right - c.left + 40} height={c.bottom - c.top + 20} />
        </clipPath>
      </defs>
      {THETA_TICKS.filter((t) => t > -180 && t < 180).map((t) => (
        <line key={'gx' + t} x1={x(t)} x2={x(t)} y1={c.top} y2={c.bottom} stroke={gridColor} strokeWidth={2.6} strokeDasharray="9 7" />
      ))}
      {c.yTicks.filter((v) => v > c.yMin).map((v) => (
        <line key={'gy' + v} x1={c.left} x2={c.right} y1={y(v)} y2={y(v)} stroke={gridColor} strokeWidth={2.6} strokeDasharray="9 7" />
      ))}
      {series.map((s, i) => (
        <g key={'s' + i}>
          <path d={line(s.data) || ''} clipPath={`url(#${clipId})`} fill="none" stroke={s.color} strokeWidth={7.5} strokeLinejoin="round" />
          <g clipPath={`url(#${mclipId})`}>
            {s.marks.map((t, j) => (
              <Marker key={'m' + j} shape={s.shape} cx={x(t)} cy={y(interp(s.data, t))} color={s.color} />
            ))}
          </g>
        </g>
      ))}
      <rect x={boxX} y={boxY} width={boxW} height={boxH} fill="#ffffff" />
      {series.map((s, i) => {
        const ly = c.legendY + i * c.legendGap;
        return (
          <g key={'lg' + i}>
            <line x1={c.legendX} x2={c.legendX + 142} y1={ly} y2={ly} stroke={s.color} strokeWidth={9.5} strokeLinecap="round" />
            <Marker shape={s.shape} cx={c.legendX + 70} cy={ly} color={s.color} />
            <text x={c.legendX + 155} y={ly + 20} fontSize={58} fontFamily={FONT} fill="#000">{LEGEND_LABELS[i]}</text>
          </g>
        );
      })}
      <rect x={c.left} y={c.top} width={c.right - c.left} height={c.bottom - c.top} fill="none" stroke="#000" strokeWidth={3.5} />
      {THETA_TICKS.map((t) => (
        <line key={'tx' + t} x1={x(t)} x2={x(t)} y1={c.bottom} y2={c.bottom - 18} stroke="#000" strokeWidth={3.5} />
      ))}
      {c.yTicks.map((v) => (
        <line key={'ty' + v} x1={c.left} x2={c.left + 18} y1={y(v)} y2={y(v)} stroke="#000" strokeWidth={3.5} />
      ))}
      {THETA_TICKS.map((t) => (
        <text key={'lx' + t} x={x(t)} y={c.bottom + 63} fontSize={56} fontFamily={FONT} textAnchor="middle" fill="#000">{String(t)}</text>
      ))}
      {c.yTicks.map((v) => (
        <text key={'ly' + v} x={c.left - 21} y={y(v) + 18} fontSize={56} fontFamily={FONT} textAnchor="end" fill="#000">{String(v)}</text>
      ))}
      <text x={cx} y={c.bottom + 129} fontSize={58} fontFamily={FONT} textAnchor="middle" fill="#000">{X_TITLE}</text>
      <text transform={`translate(${c.yTitleX + 19},${c.yTitleY}) rotate(-90)`} fontSize={58} fontFamily={FONT} textAnchor="middle" fill="#000">{Y_TITLE}</text>
      <text x={c.labelX} y={c.labelY} fontSize={82} fontFamily={FONT} textAnchor="middle" fill="#000">
        (<tspan fontWeight="bold">{c.letter}</tspan>)
      </text>
    </g>
  );
}

export default function App() {
  useEffect(() => {
    document.body.style.margin = '0';
    document.body.style.overflow = 'hidden';
  }, []);
  return (
    <div style={{ position: 'absolute', left: 0, top: 0, width: W, height: H, background: '#fff' }}>
      <svg width={W} height={H} viewBox={`0 0 ${W} ${H}`} style={{ display: 'block' }}>
        <rect x={0} y={0} width={W} height={H} fill="#fff" />
        {PANELS.map((p) => (
          <Panel key={p.key} c={p} />
        ))}
      </svg>
    </div>
  );
}
